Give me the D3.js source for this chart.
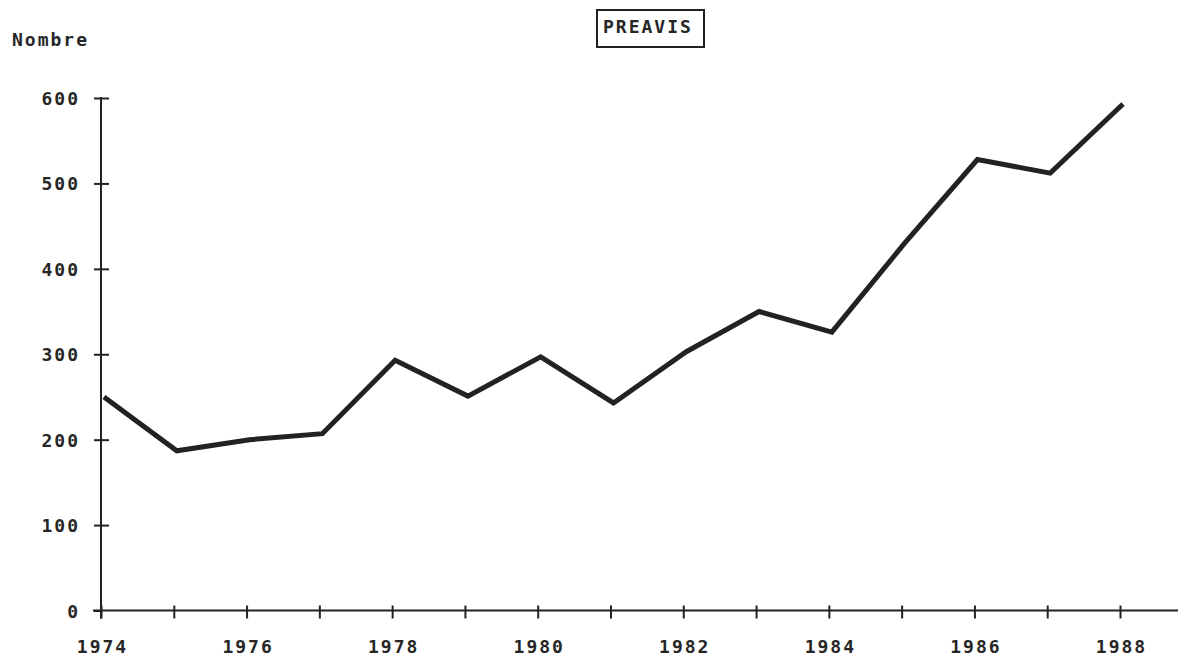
<!DOCTYPE html>
<html>
<head>
<meta charset="utf-8">
<script src="https://cdn.jsdelivr.net/npm/d3@7/dist/d3.min.js"></script>
<style>
  body { margin: 0; background: #fff; }
  text { font-family: "DejaVu Sans Mono", monospace; font-size: 18px; font-weight: bold; letter-spacing: 2px; fill: #262626; }
</style>
</head>
<body>
<svg id="chart" width="1187" height="656"></svg>
<script>
// data
var years = [1974, 1975, 1976, 1977, 1978, 1979, 1980, 1981, 1982, 1983, 1984, 1985, 1986, 1987, 1988];
var preavis = [250, 187, 200, 207, 293, 251, 297, 243, 303, 350, 326, 430, 528, 512, 593];
var yTicks = [0, 100, 200, 300, 400, 500, 600];
var xLabelYears = [1974, 1976, 1978, 1980, 1982, 1984, 1986, 1988];

var conf = {
    left: 101,
    right: 1120,
    top: 98,
    bottom: 610.5,
    axisEnd: 1178
};

var svg = d3.select('#chart');

var x = d3.scaleLinear().domain([1974, 1988]).range([conf.left, conf.right]);
var y = d3.scaleLinear().domain([0, 600]).range([conf.bottom, conf.top]);

// x axis: ticks every year, labels only on even years
var xAxis = d3.axisBottom(x)
    .tickValues(years)
    .tickSize(8)
    .tickFormat(function(d){ return xLabelYears.indexOf(d) >= 0 ? d : ''; });

var gx = svg.append('g')
    .attr('transform', 'translate(0,' + conf.bottom + ')')
    .call(xAxis);
gx.select('.domain').remove();
gx.append('line')
    .attr('x1', conf.left - 8).attr('x2', conf.axisEnd)
    .attr('stroke', '#222').attr('stroke-width', 2);
gx.selectAll('.tick line')
    .attr('y1', -5).attr('y2', 8)
    .attr('stroke', '#222').attr('stroke-width', 2);
gx.selectAll('.tick text')
    .attr('y', 42).attr('dy', 0)
    .attr('dx', 1)
    .attr('font-size', null).attr('font-family', null);

// y axis
var yAxis = d3.axisLeft(y).tickValues(yTicks).tickSize(7).tickFormat(d3.format('d'));
var gy = svg.append('g')
    .attr('transform', 'translate(' + conf.left + ',0)')
    .call(yAxis);
gy.select('.domain').remove();
gy.append('line')
    .attr('y1', conf.top - 1).attr('y2', conf.bottom + 8)
    .attr('stroke', '#222').attr('stroke-width', 2);
gy.selectAll('.tick line')
    .attr('x1', -7).attr('x2', 8)
    .attr('stroke', '#222').attr('stroke-width', 2);
gy.selectAll('.tick text')
    .attr('x', -21).attr('dy', 6.5)
    .attr('font-size', null).attr('font-family', null);
gy.selectAll('.tick').filter(function(d){ return d === 0; }).select('line').attr('x2', 0);

// the series
var line = d3.line()
    .x(function(d, i){ return x(years[i]); })
    .y(function(d){ return y(d); });

svg.append('path')
    .datum(preavis)
    .attr('transform', 'translate(3,0)')
    .attr('fill', 'none')
    .attr('stroke', '#222')
    .attr('stroke-width', 5)
    .attr('stroke-linejoin', 'miter')
    .attr('d', line);

// axis title
svg.append('text')
    .attr('x', 12).attr('y', 46)
    .text('Nombre');

// boxed title
svg.append('rect')
    .attr('x', 597).attr('y', 10)
    .attr('width', 107).attr('height', 37)
    .attr('fill', 'none')
    .attr('stroke', '#222').attr('stroke-width', 2);
svg.append('text')
    .attr('x', 603).attr('y', 33)
    .text('PREAVIS');
</script>
</body>
</html>
